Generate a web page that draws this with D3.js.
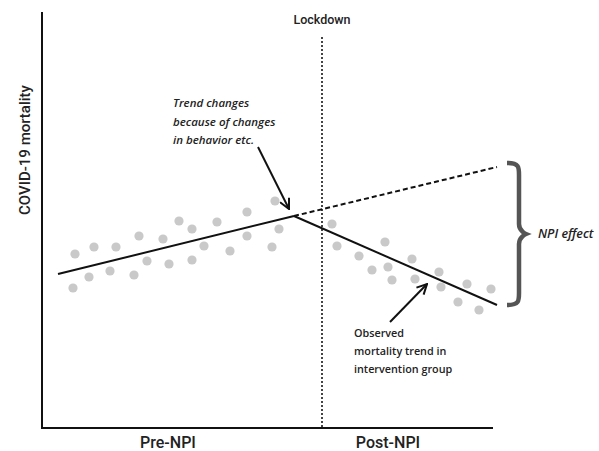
<!DOCTYPE html>
<html><head><meta charset="utf-8">
<script src="https://cdn.jsdelivr.net/npm/d3@7"></script>
<style>html,body{margin:0;padding:0;background:#fff;}svg{display:block;}</style>
</head><body>
<svg id="chart" width="599" height="451"></svg>
<script>
// ---- data (time units on x, mortality units on y) ----
const preX = [3.3,5.2,7.4,9.7,12.1,13.7,15.0,17.5,20.5,23.3,23.7,3.1,4.7,6.8,9.2,10.5,12.7,15.0,16.2,18.8,20.5,23.0];
const preY = [17.4,18.1,18.1,19.2,18.9,20.7,19.9,20.6,21.6,22.7,19.9,14.0,15.1,15.7,15.3,16.7,16.4,16.8,18.2,17.7,19.2,18.1];
const postX = [29.0,29.5,34.3,31.7,33.0,34.6,35.0,37.0,37.3,39.7,39.9,42.5,41.6,43.7,44.9];
const postY = [20.4,18.2,18.6,17.2,15.8,16.1,14.8,16.9,14.9,15.6,14.1,14.4,12.6,11.8,13.9];
const preTrend = [[1.6,15.4],[25.2,21.2]];
const postTrend = [[25.2,21.2],[45.5,12.3]];
const counterfactual = [[25.2,21.2],[45.5,26.1]];
const lockdownX = 28.0;
const periodLabels = ["Pre-NPI","Post-NPI"];
const periodCenters = [12.6, 34.6];
const yLabel = "COVID-19 mortality";
const noteTrend = ["Trend changes","because of changes","in behavior etc."];
const noteObserved = ["Observed","mortality trend in","intervention group"];

const svg = d3.select("#chart");
const x = d3.scaleLinear().domain([0,45.1]).range([42,493]);
const y = d3.scaleLinear().domain([0,41.6]).range([428,12]);

// markers
const defs = svg.append("defs");
defs.append("marker").attr("id","arr").attr("viewBox","0 0 12 12")
  .attr("refX",11).attr("refY",6).attr("markerWidth",12).attr("markerHeight",12)
  .attr("markerUnits","userSpaceOnUse").attr("orient","auto")
  .append("path").attr("d","M1,1 L11,6 L1,11").attr("fill","none")
  .attr("stroke","#111").attr("stroke-width",2);

// points
const pts = preX.map((v,i)=>[v,preY[i]]).concat(postX.map((v,i)=>[v,postY[i]]));
svg.append("g").selectAll("circle").data(pts).join("circle")
  .attr("cx",d=>x(d[0])).attr("cy",d=>y(d[1])).attr("r",4.6).attr("fill","#c9c9c9");

// lockdown dotted line
svg.append("line").attr("x1",x(lockdownX)).attr("x2",x(lockdownX))
  .attr("y1",y(39.1)).attr("y2",y(0)).attr("stroke","#444").attr("stroke-width",2)
  .attr("stroke-dasharray","2,2");
svg.append("text").attr("x",x(lockdownX)).attr("y",24).attr("text-anchor","middle")
  .attr("font-family","Roboto").attr("font-weight",500).attr("font-size",12.5).attr("fill","#222")
  .text("Lockdown");

// axes
svg.append("line").attr("x1",x(0)).attr("x2",x(0)).attr("y1",y(41.6)).attr("y2",y(0))
  .attr("stroke","#111").attr("stroke-width",2);
svg.append("line").attr("x1",x(0)-1).attr("x2",x(45.1)).attr("y1",y(0)).attr("y2",y(0))
  .attr("stroke","#111").attr("stroke-width",2);

// trends
const line = d3.line().x(d=>x(d[0])).y(d=>y(d[1]));
svg.append("path").attr("d",line(preTrend)).attr("stroke","#111").attr("stroke-width",2).attr("fill","none");
svg.append("path").attr("d",line(postTrend)).attr("stroke","#111").attr("stroke-width",2).attr("fill","none");
svg.append("path").attr("d",line(counterfactual)).attr("stroke","#111").attr("stroke-width",2)
  .attr("stroke-dasharray","5,3").attr("fill","none");

// brace
const bx = x(counterfactual[1][0]) + 10;
const yt = y(counterfactual[1][1]) - 4, yb = y(postTrend[1][1]);
const ym = (yt+yb)/2, w = 12, tip = 7;
const bp = `M${bx},${yt} C${bx+w},${yt} ${bx+w},${yt+4} ${bx+w},${yt+12} L${bx+w},${ym-10} C${bx+w},${ym-3} ${bx+w+tip},${ym} ${bx+w+tip},${ym} C${bx+w+tip},${ym} ${bx+w},${ym+3} ${bx+w},${ym+10} L${bx+w},${yb-12} C${bx+w},${yb-4} ${bx+w},${yb} ${bx},${yb}`;
svg.append("path").attr("d",bp).attr("fill","none").attr("stroke","#555").attr("stroke-width",4.5);
svg.append("text").attr("x",bx+w+tip+12).attr("y",ym+4)
  .attr("font-family","Open Sans").attr("font-style","italic").attr("font-weight",600)
  .attr("font-size",12.5).attr("fill","#222").text("NPI effect");

// annotation 1
const t1 = svg.append("text").attr("font-family","Open Sans").attr("font-style","italic")
  .attr("font-weight",600).attr("font-size",11.5).attr("fill","#222");
noteTrend.forEach((s,i)=>t1.append("tspan").attr("x",173).attr("y",107+i*18.5).text(s));
svg.append("line").attr("x1",258).attr("y1",147).attr("x2",x(preTrend[1][0])-5).attr("y2",y(preTrend[1][1])-7)
  .attr("stroke","#111").attr("stroke-width",2).attr("marker-end","url(#arr)");

// annotation 2
const t2 = svg.append("text").attr("font-family","Open Sans")
  .attr("font-weight",600).attr("font-size",10.8).attr("fill","#222");
noteObserved.forEach((s,i)=>t2.append("tspan").attr("x",354).attr("y",337+i*18).text(s));
svg.append("line").attr("x1",390).attr("y1",322).attr("x2",427).attr("y2",284)
  .attr("stroke","#111").attr("stroke-width",2).attr("marker-end","url(#arr)");

// axis labels
svg.append("text").attr("transform",`translate(30,${y(27.8)}) rotate(-90)`).attr("text-anchor","middle")
  .attr("font-family","Roboto").attr("font-weight",500).attr("font-size",15).attr("fill","#222").text(yLabel);
svg.append("g").selectAll("text").data(periodLabels).join("text")
  .attr("x",(d,i)=>x(periodCenters[i])).attr("y",448).attr("text-anchor","middle")
  .attr("font-family","Roboto").attr("font-weight",500).attr("font-size",16).attr("fill","#222")
  .text(d=>d);
</script>
</body></html>
